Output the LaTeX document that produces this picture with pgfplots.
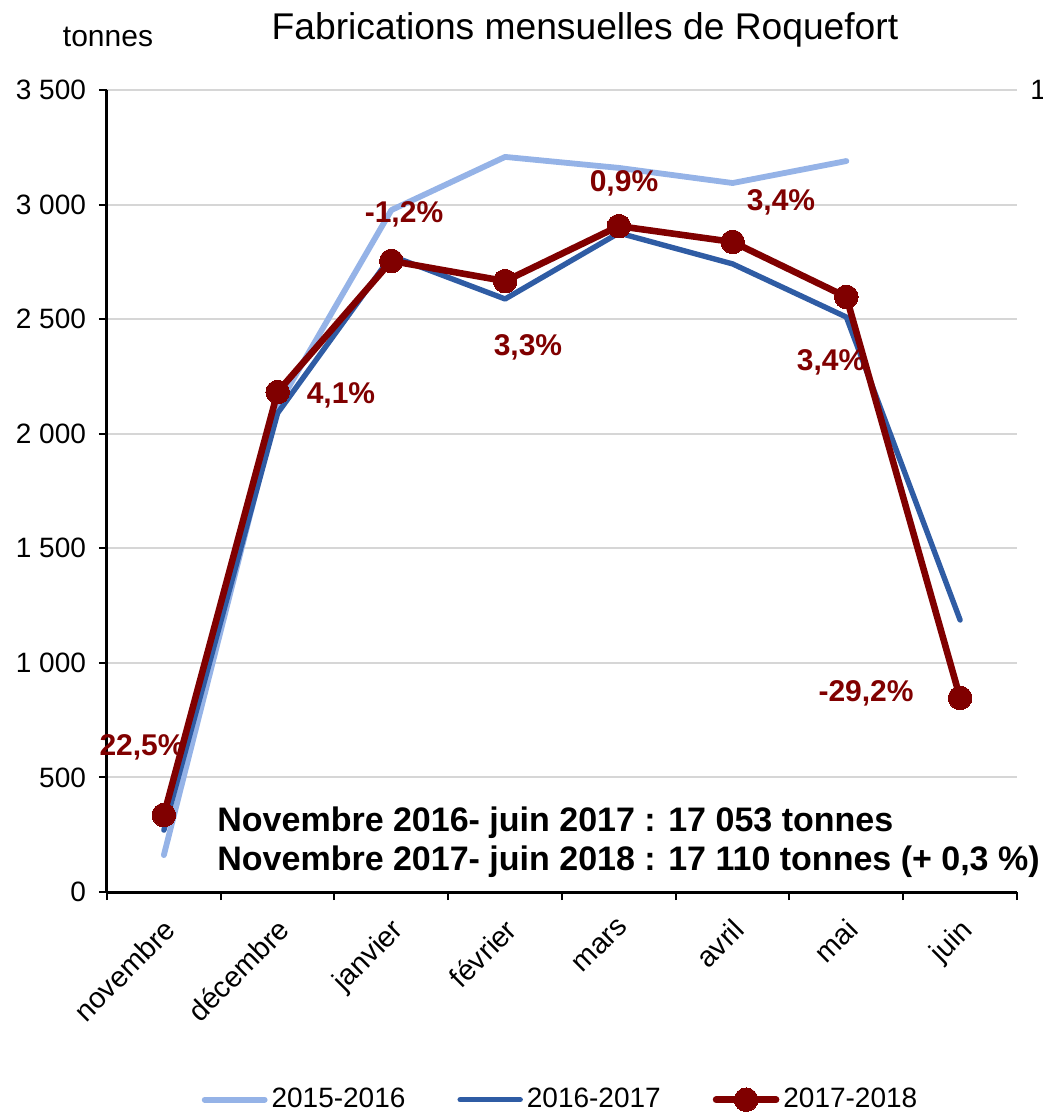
\documentclass[border=0pt]{standalone}
\usepackage{fontspec}
\setmainfont{Liberation Sans}
\usepackage{pgfplots}
\pgfplotsset{compat=1.18}
\definecolor{lightblue}{RGB}{149,179,231}
\definecolor{midblue}{RGB}{47,92,164}
\definecolor{darkred}{RGB}{128,0,0}
\definecolor{gridgray}{RGB}{214,214,214}
\tikzset{pct/.style={font=\bfseries\fontsize{15}{18}\selectfont, text=darkred, inner sep=0pt}}
\begin{document}
\begin{tikzpicture}
\begin{axis}[
    at={(0,0)}, anchor=south west,
    width=455pt, height=401pt, scale only axis,
    xmin=-0.5, xmax=7.5, ymin=0, ymax=3500,
    axis lines=left,
    axis line style={-, line width=1.5pt, black},
    ytick={0,500,...,3500},
    yticklabels={0,500,1 000,1 500,2 000,2 500,3 000,3 500},
    xtick={0,...,7},
    xticklabels={novembre,décembre,janvier,février,mars,avril,mai,juin},
    minor xtick={-0.5,0.5,...,7.5},
    major x tick style={draw=none},
    tick align=outside, major tick length=4pt, minor tick length=4pt,
    tick style={black, line width=1pt},
    ymajorgrids, grid style={gridgray, line width=1pt},
    x tick label style={rotate=45, anchor=north east, font=\fontsize{14.5}{17}\selectfont, yshift=-2pt, xshift=-3pt},
    y tick label style={font=\fontsize{14}{16}\selectfont, xshift=-3pt},
    clip=false,
    legend columns=3,
    legend style={at={(0.4995,-0.259)}, anchor=center, draw=none, fill=none,
        font=\fontsize{14}{16}\selectfont,
        /tikz/every even column/.append style={column sep=24pt}},
    legend image code/.code={\draw[mark repeat=2,mark phase=2,#1] plot coordinates {(0pt,0pt) (15pt,0pt) (30pt,0pt)};},
    every axis plot/.append style={line cap=round, line join=round},
]
\addplot[lightblue, line width=2.9pt, mark=none] coordinates {
    (0,161)(1,2120)(2,2976)(3,3208)(4,3160)(5,3094)(6,3190)};
\addlegendentry{2015-2016}
\addplot[midblue, line width=2.7pt, mark=none] coordinates {
    (0,270)(1,2090)(2,2776)(3,2588)(4,2876)(5,2741)(6,2509)(7,1187)};
\addlegendentry{2016-2017}
\addplot[darkred, line width=3.3pt, mark=*, mark size=5.9pt, mark options={fill=darkred, draw=darkred, line width=0pt}] coordinates {
    (0,336)(1,2182)(2,2754)(3,2666)(4,2906)(5,2837)(6,2597)(7,847)};
\addlegendentry{2017-2018}
\node[pct] at (axis cs:-0.192,633) {22,5\%};
\node[pct] at (axis cs:1.557,2169) {4,1\%};
\node[pct] at (axis cs:2.111,2959) {-1,2\%};
\node[pct] at (axis cs:3.201,2378) {3,3\%};
\node[pct] at (axis cs:4.045,3094) {0,9\%};
\node[pct] at (axis cs:5.425,3011) {3,4\%};
\node[pct] at (axis cs:5.865,2313) {3,4\%};
\node[pct] at (axis cs:6.173,868) {-29,2\%};
\node[anchor=west, inner sep=0pt, font=\bfseries\fontsize{17}{20}\selectfont] at (axis cs:0.467,301) {Novembre 2016- juin 2017 : 17 053 tonnes};
\node[anchor=west, inner sep=0pt, font=\bfseries\fontsize{17}{20}\selectfont] at (axis cs:0.467,131) {Novembre 2017- juin 2018 : 17 110 tonnes (+ 0,3 \%)};
\end{axis}
\node[font=\fontsize{18.6}{22}\selectfont] at (239pt,431pt) {Fabrications mensuelles de Roquefort};
\node[font=\fontsize{15}{18}\selectfont] at (0.5pt,427.5pt) {tonnes};
\node[anchor=west, inner sep=0pt, font=\fontsize{14}{16}\selectfont] at (461.5pt,401pt) {1};
\pgfresetboundingbox
\path[use as bounding box] (-53.5pt,-111pt) rectangle (468pt,446pt);
\end{tikzpicture}
\end{document}
